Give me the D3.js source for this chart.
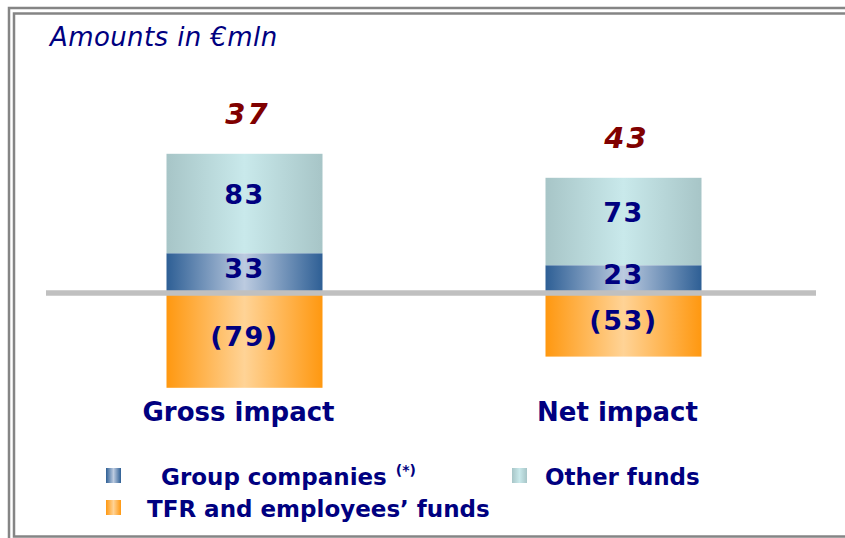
<!DOCTYPE html>
<html>
<head>
<meta charset="utf-8">
<script src="https://cdn.jsdelivr.net/npm/d3@7"></script>
<style>
  body { margin: 0; background: #fff; }
  svg { display: block; }
  text { font-family: "DejaVu Sans", Verdana, sans-serif; }
</style>
</head>
<body>
<div id="chart"></div>
<script>
// data
var categories = ["Gross impact", "Net impact"];
var groupCompanies = [33, 23];
var otherFunds = [83, 73];
var tfrFunds = [-79, -53];
var totals = [37, 43];
var segLabels = {
  group: ["33", "23"],
  other: ["83", "73"],
  tfr: ["(79)", "(53)"]
};
var legendLabels = ["Group companies", "Other funds", "TFR and employees\u2019 funds"];

var width = 845, height = 538;

var svg = d3.select("#chart")
    .append("svg")
    .attr("width", width)
    .attr("height", height);

// gradients (dark edges, light middle)
var defs = svg.append("defs");
function grad(id, edge, mid) {
  var g = defs.append("linearGradient").attr("id", id)
      .attr("x1", "0%").attr("x2", "100%").attr("y1", "0%").attr("y2", "0%");
  g.append("stop").attr("offset", "0%").attr("stop-color", edge);
  g.append("stop").attr("offset", "50%").attr("stop-color", mid);
  g.append("stop").attr("offset", "100%").attr("stop-color", edge);
}
grad("gOther", "#a7c5c7", "#c9e9eb");
grad("gGroup", "#2e5f95", "#bccbe0");
grad("gTfr", "#ff9810", "#ffd396");

// frame
svg.append("rect").attr("x", 9).attr("y", 8).attr("width", 850).attr("height", 540)
    .attr("fill", "none").attr("stroke", "#858585").attr("stroke-width", 2.5);
svg.append("rect").attr("x", 14).attr("y", 13.5).attr("width", 845).attr("height", 523)
    .attr("fill", "none").attr("stroke", "#858585").attr("stroke-width", 2.5);

// title
svg.append("text")
    .attr("x", 50).attr("y", 46)
    .attr("font-size", 26)
    .attr("font-style", "italic")
    .attr("letter-spacing", 0.4)
    .attr("fill", "#000080")
    .text("Amounts in \u20acmln");

// scales
var x = d3.scalePoint()
    .domain(categories)
    .range([244.5, 623.5]);
var barW = 156;

var y = d3.scaleLinear()
    .domain([-100, 120])
    .range([413, 149]);

var rows = categories.map(function (c, i) {
  return { cat: c, group: groupCompanies[i], other: otherFunds[i], tfr: tfrFunds[i], total: totals[i], i: i };
});

// other funds (stacked above group companies)
svg.append("g").selectAll("rect")
    .data(rows).enter().append("rect")
    .attr("x", function (d) { return x(d.cat) - barW / 2; })
    .attr("width", barW)
    .attr("y", function (d) { return y(d.group + d.other); })
    .attr("height", function (d) { return y(d.group) - y(d.group + d.other); })
    .attr("fill", "url(#gOther)");

// group companies
svg.append("g").selectAll("rect")
    .data(rows).enter().append("rect")
    .attr("x", function (d) { return x(d.cat) - barW / 2; })
    .attr("width", barW)
    .attr("y", function (d) { return y(d.group); })
    .attr("height", function (d) { return y(0) - y(d.group); })
    .attr("fill", "url(#gGroup)");

// TFR (negative)
svg.append("g").selectAll("rect")
    .data(rows).enter().append("rect")
    .attr("x", function (d) { return x(d.cat) - barW / 2; })
    .attr("width", barW)
    .attr("y", y(0))
    .attr("height", function (d) { return y(d.tfr) - y(0); })
    .attr("fill", "url(#gTfr)");

// zero line
svg.append("line")
    .attr("x1", 46).attr("x2", 816)
    .attr("y1", y(0)).attr("y2", y(0))
    .attr("stroke", "#c0c0c0").attr("stroke-width", 5.5);

// segment labels
function segText(yFn, labels) {
  svg.append("g").selectAll("text")
      .data(rows).enter().append("text")
      .attr("x", function (d) { return x(d.cat); })
      .attr("y", yFn)
      .attr("text-anchor", "middle")
      .attr("dominant-baseline", "central")
      .attr("font-size", 27)
      .attr("font-weight", "bold")
      .attr("letter-spacing", 1.5)
      .attr("fill", "#000080")
      .text(function (d) { return labels[d.i]; });
}
segText(function (d) { return (y(d.group + d.other) + y(d.group)) / 2 - 9; }, segLabels.other);
segText(function (d) { return (y(d.group) + y(0)) / 2 - 5; }, segLabels.group);
segText(function (d) { return (y(0) + y(d.tfr)) / 2 - 4; }, segLabels.tfr);

// totals
svg.append("g").selectAll("text")
    .data(rows).enter().append("text")
    .attr("x", function (d) { return x(d.cat) + 3; })
    .attr("y", function (d) { return y(d.group + d.other) - 30; })
    .attr("text-anchor", "middle")
    .attr("font-size", 29)
    .attr("font-weight", "bold")
    .attr("font-style", "italic")
    .attr("letter-spacing", 2)
    .attr("fill", "#800000")
    .text(function (d) { return d.total; });

// category labels
svg.append("g").selectAll("text")
    .data(rows).enter().append("text")
    .attr("x", function (d) { return x(d.cat) - 6; })
    .attr("y", 421)
    .attr("text-anchor", "middle")
    .attr("font-size", 26)
    .attr("font-weight", "bold")
    .attr("fill", "#000080")
    .text(function (d) { return d.cat; });

// legend
var legend = [
  { label: legendLabels[0], fill: "url(#gGroup)", sx: 106, sy: 468, tx: 161, ty: 485, note: true },
  { label: legendLabels[1], fill: "url(#gOther)", sx: 512, sy: 468, tx: 545, ty: 485 },
  { label: legendLabels[2], fill: "url(#gTfr)", sx: 106, sy: 500, tx: 147, ty: 517 }
];
var lg = svg.append("g").selectAll("g").data(legend).enter().append("g");
lg.append("rect")
    .attr("x", function (d) { return d.sx; })
    .attr("y", function (d) { return d.sy; })
    .attr("width", 15).attr("height", 15)
    .attr("fill", function (d) { return d.fill; });
var lt = lg.append("text")
    .attr("x", function (d) { return d.tx; })
    .attr("y", function (d) { return d.ty; })
    .attr("font-size", 23)
    .attr("font-weight", "bold")
    .attr("fill", "#000080")
    .text(function (d) { return d.label; });
lt.filter(function (d) { return d.note; })
    .append("tspan")
    .attr("dx", 9).attr("dy", -10)
    .attr("font-size", 14)
    .text("(*)");
</script>
</body>
</html>
